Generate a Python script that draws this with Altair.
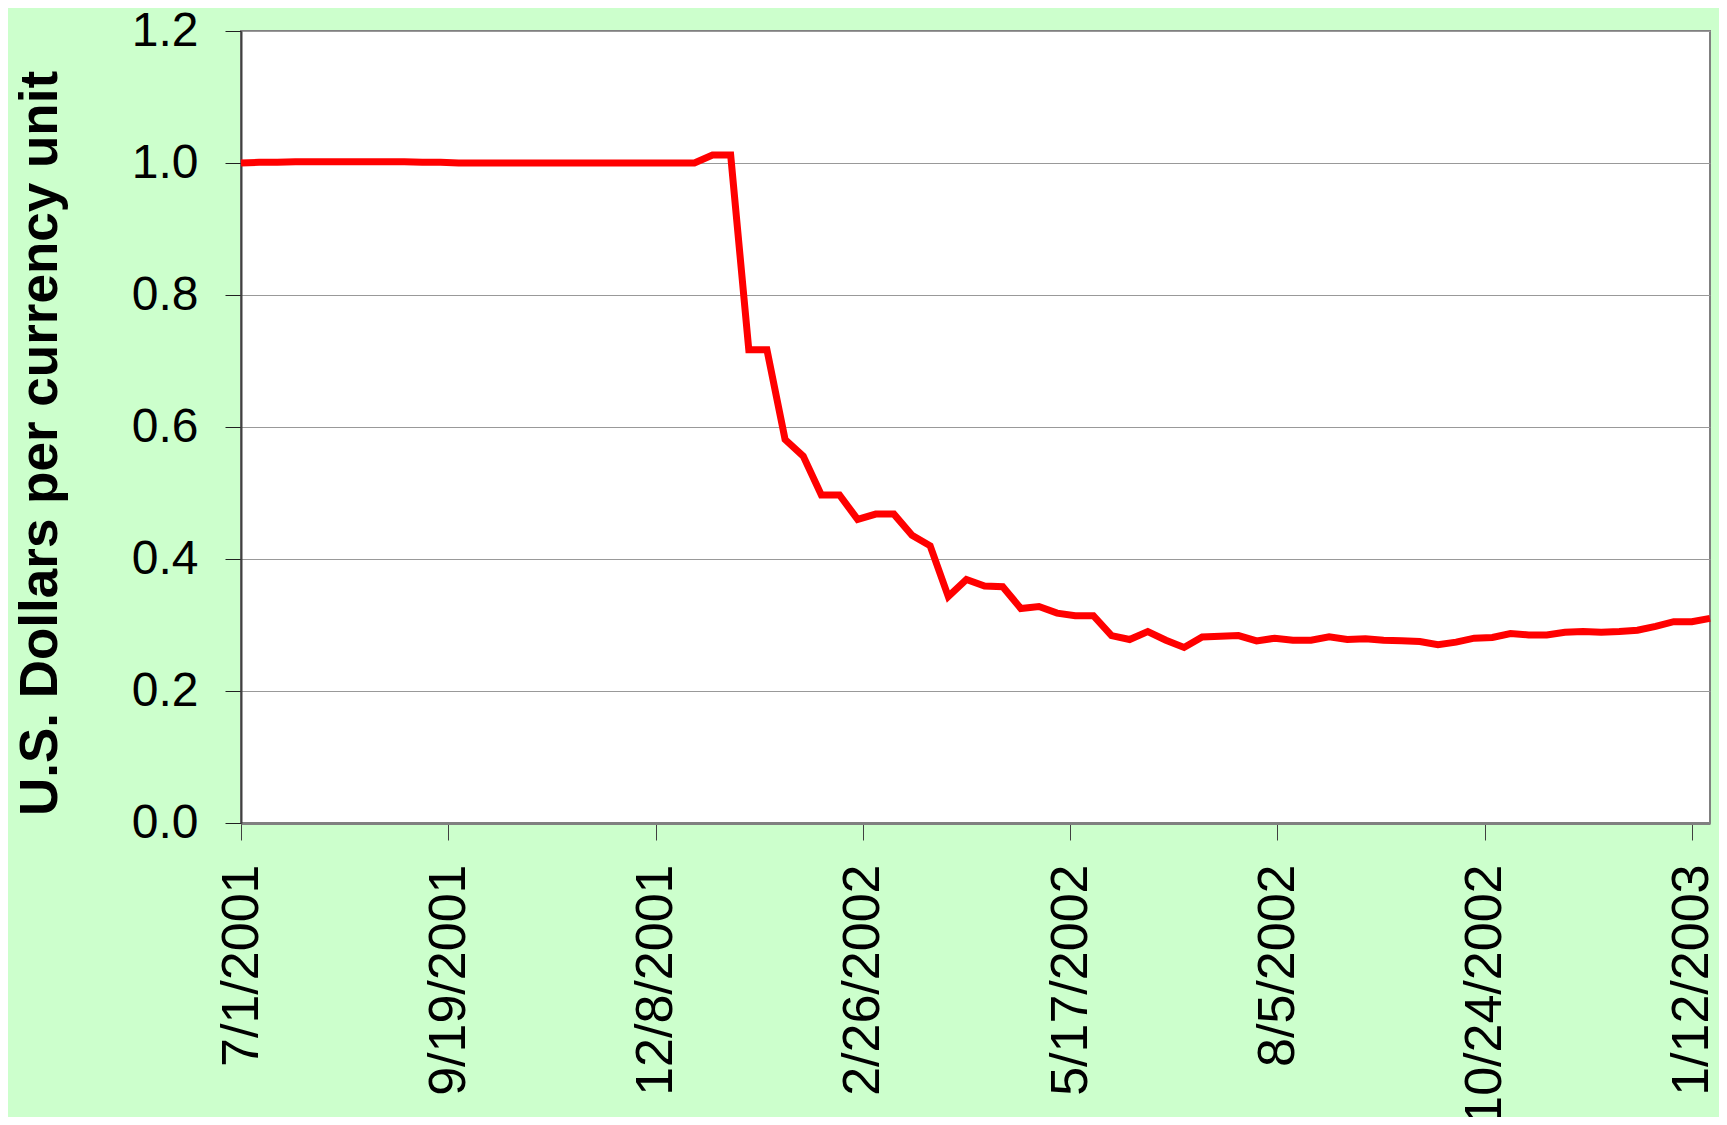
import altair as alt
import pandas as pd

# Weekly observations starting 7/1/2001 (82 weeks)
start_date = "2001-07-01"
end_date = "2003-01-19"
values = [
    1.000, 1.001, 1.001, 1.002, 1.002, 1.002, 1.002, 1.002, 1.002, 1.002,
    1.001, 1.001, 1.000, 1.000, 1.000, 1.000, 1.000, 1.000, 1.000, 1.000,
    1.000, 1.000, 1.000, 1.000, 1.000, 1.000, 1.012, 1.012,
    0.717, 0.717, 0.581, 0.556, 0.497, 0.497, 0.460, 0.468, 0.468, 0.436,
    0.420, 0.343, 0.369, 0.359, 0.358, 0.325, 0.328, 0.318, 0.314, 0.314,
    0.284, 0.278, 0.290, 0.277, 0.266, 0.282, 0.283, 0.284, 0.276, 0.280,
    0.277, 0.277, 0.282, 0.278, 0.279, 0.277, 0.276, 0.275, 0.270, 0.274,
    0.280, 0.281, 0.287, 0.285, 0.285, 0.289, 0.290, 0.289, 0.290, 0.292,
    0.298, 0.305, 0.305, 0.310,
]
tick_dates = [(2001, 7, 1), (2001, 9, 19), (2001, 12, 8), (2002, 2, 26),
              (2002, 5, 17), (2002, 8, 5), (2002, 10, 24), (2003, 1, 12)]
y_ticks = [0.0, 0.2, 0.4, 0.6, 0.8, 1.0, 1.2]
y_title = "U.S. Dollars per currency unit"

dates = pd.date_range(start_date, periods=len(values), freq="7D").strftime("%Y-%m-%d")
df = pd.DataFrame({"date": list(dates), "value": values})

def dt(y, m, d):
    return alt.DateTime(year=y, month=m, date=d, utc=True)

sy, sm, sd = map(int, start_date.split("-"))
ey, em, ed = map(int, end_date.split("-"))

chart = alt.Chart(df).mark_line(color="#FF0000", strokeWidth=7).encode(
    x=alt.X(
        "date:T",
        scale=alt.Scale(type="utc", domain=[dt(sy, sm, sd), dt(ey, em, ed)], nice=False),
        axis=alt.Axis(
            values=[dt(*t) for t in tick_dates],
            labelExpr="utcFormat(datum.value, '%-m/%-d/%Y')",
            labelAngle=270,
            labelAlign="right",
            labelBaseline="middle",
            labelFontSize=52,
            labelPadding=24,
            labelLimit=0,
            labelColor="#000000",
            tickSize=17,
            tickColor="#404040",
            tickWidth=1,
            domainColor="#808080",
            domainWidth=3,
            grid=False,
            title=None,
            labelOverlap=False,
            labelFlush=False,
        ),
    ),
    y=alt.Y(
        "value:Q",
        scale=alt.Scale(domain=[0, 1.2], nice=False, zero=True),
        axis=alt.Axis(
            values=y_ticks,
            format=".1f",
            labelFontSize=48,
            labelPadding=27,
            labelLimit=0,
            labelColor="#000000",
            tickSize=16,
            tickColor="#202020",
            tickWidth=1,
            domainColor="#404040",
            domainWidth=2,
            grid=True,
            gridColor="#999999",
            gridWidth=1,
            title=y_title,
            titleFontSize=53,
            titleFontWeight="bold",
            titleColor="#000000",
            titleAngle=270,
            titleAlign="center",
            titleBaseline="bottom",
            titleX=-174,
            titleY=412,
            titleLimit=0,
            labelOverlap=False,
        ),
    ),
).properties(
    width=1469,
    height=792,
    background="#CCFFCC",
    autosize=alt.AutoSizeParams(type="none"),
    padding={"left": 233, "top": 23, "right": 9, "bottom": 294},
).configure(
    font="Liberation Sans",
).configure_view(
    fill="#FFFFFF",
    stroke="#808080",
    strokeWidth=2,
)

chart.save("out.html", embed_options={"renderer": "svg", "actions": False})
